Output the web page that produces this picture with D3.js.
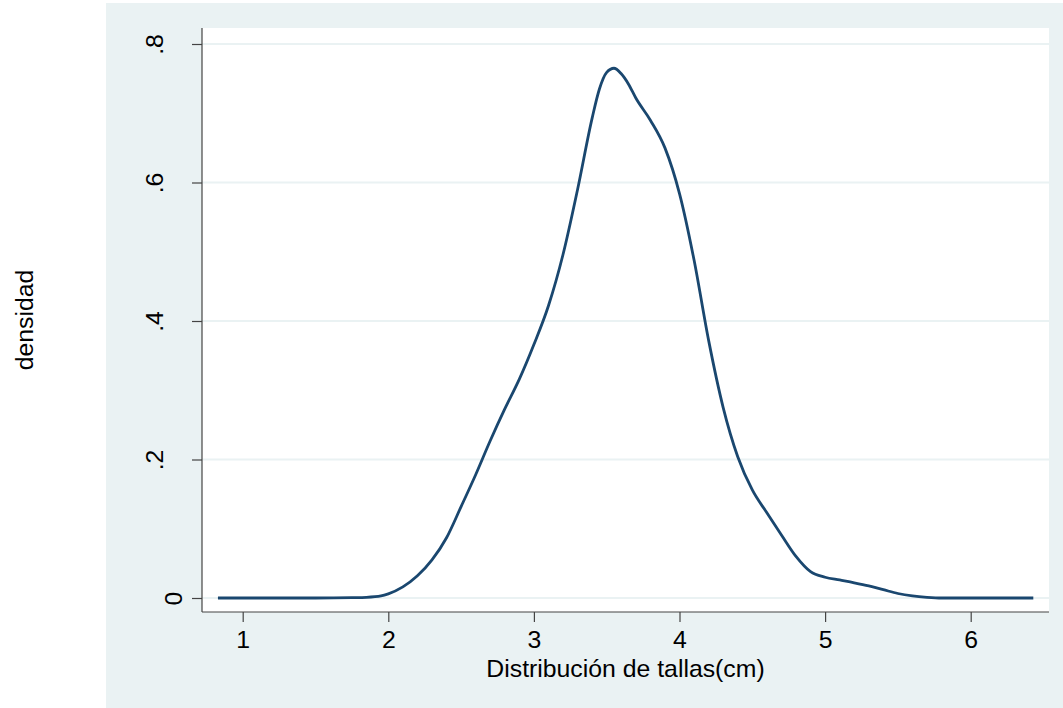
<!DOCTYPE html>
<html>
<head>
<meta charset="utf-8">
<script src="https://cdn.jsdelivr.net/npm/d3@7"></script>
<style>
  html, body { margin: 0; padding: 0; background: #ffffff; }
  svg { display: block; font-family: Arial, "Liberation Sans", sans-serif; }
</style>
</head>
<body>
<svg id="chart" width="1063" height="708"></svg>
<script>
// Kernel density estimate of sizes (cm)
const tallas = [0.83, 1.0, 1.5, 1.75, 1.85, 1.95, 2.0, 2.1, 2.2, 2.3, 2.4, 2.5, 2.6, 2.7, 2.8, 2.9,
  3.0, 3.1, 3.2, 3.3, 3.4, 3.45, 3.5, 3.55, 3.6, 3.65, 3.7, 3.8, 3.9, 4.0, 4.1, 4.2, 4.3, 4.4,
  4.5, 4.6, 4.7, 4.8, 4.9, 5.0, 5.1, 5.2, 5.3, 5.4, 5.5, 5.6, 5.7, 5.8, 6.0, 6.43];
const densidad = [0, 0, 0, 0.0005, 0.001, 0.003, 0.006, 0.016, 0.032, 0.055, 0.087, 0.132, 0.178, 0.227, 0.273, 0.316,
  0.366, 0.422, 0.496, 0.590, 0.693, 0.735, 0.759, 0.765, 0.757, 0.742, 0.722, 0.690, 0.650, 0.584, 0.488, 0.372, 0.275, 0.204,
  0.156, 0.123, 0.091, 0.060, 0.038, 0.030, 0.026, 0.022, 0.0175, 0.012, 0.0065, 0.003, 0.001, 0, 0, 0];

const xTicks = [1, 2, 3, 4, 5, 6];
const yTicks = [0, 0.2, 0.4, 0.6, 0.8];
const yTickLabels = ["0", ".2", ".4", ".6", ".8"];
const xTitle = "Distribución de tallas(cm)";
const yTitle = "densidad";

const svg = d3.select("#chart");
const W = 1063, H = 708;
const fontSize = "24.8px";

// Graph region background
svg.append("rect").attr("x", 106).attr("y", 3).attr("width", W - 106).attr("height", H - 3)
  .attr("fill", "#EAF2F3");

// Plot region
const plot = { left: 202, right: 1049, top: 28, bottom: 612 };
svg.append("rect").attr("x", plot.left).attr("y", plot.top)
  .attr("width", plot.right - plot.left).attr("height", plot.bottom - plot.top)
  .attr("fill", "#ffffff");

const x = d3.scaleLinear().domain([1, 6]).range([242.7, 970.7]);
const y = d3.scaleLinear().domain([0, 0.8]).range([598, 44]);

// Horizontal grid lines
svg.append("g").selectAll("line").data(yTicks).join("line")
  .attr("x1", plot.left).attr("x2", plot.right)
  .attr("y1", d => y(d)).attr("y2", d => y(d))
  .attr("stroke", "#EAF2F3").attr("stroke-width", 2.2);

// Density curve
const line = d3.line().x((d, i) => x(tallas[i])).y(d => y(d)).curve(d3.curveMonotoneX);
svg.append("path").datum(densidad).attr("d", line)
  .attr("fill", "none").attr("stroke", "#1A476F").attr("stroke-width", 2.8)
  .attr("stroke-linejoin", "round");

// Y axis
const yAxis = d3.axisLeft(y).tickValues(yTicks).tickSize(10).tickFormat("");
const gy = svg.append("g").attr("transform", `translate(${plot.left},0)`).call(yAxis);
gy.select(".domain").attr("d", `M0,${plot.top}V${plot.bottom}`);
gy.selectAll("path, line").attr("stroke", "#444").attr("stroke-width", 1.2);
gy.selectAll(".tick").append("text")
  .attr("transform", (d, i) => `translate(${yTickLabels[i] === "0" ? -20 : -39},0) rotate(-90)`)
  .attr("text-anchor", "middle").attr("fill", "#000")
  .style("font-size", fontSize)
  .text((d, i) => yTickLabels[i]);

// X axis
const xAxis = d3.axisBottom(x).tickValues(xTicks).tickSize(10).tickFormat("");
const gx = svg.append("g").attr("transform", `translate(0,${plot.bottom})`).call(xAxis);
gx.select(".domain").attr("d", `M${plot.left},0H${plot.right}`);
gx.selectAll("path, line").attr("stroke", "#444").attr("stroke-width", 1.2);
gx.selectAll(".tick").append("text")
  .attr("y", 36).attr("text-anchor", "middle").attr("fill", "#000")
  .style("font-size", fontSize)
  .text(d => d);

// Axis titles
svg.append("text").attr("x", (plot.left + plot.right) / 2).attr("y", 677)
  .attr("text-anchor", "middle").style("font-size", fontSize).attr("fill", "#000")
  .text(xTitle);
svg.append("text").attr("transform", `translate(33,${(plot.top + plot.bottom) / 2}) rotate(-90)`)
  .attr("text-anchor", "middle").style("font-size", fontSize).attr("fill", "#000")
  .text(yTitle);
</script>
</body>
</html>
